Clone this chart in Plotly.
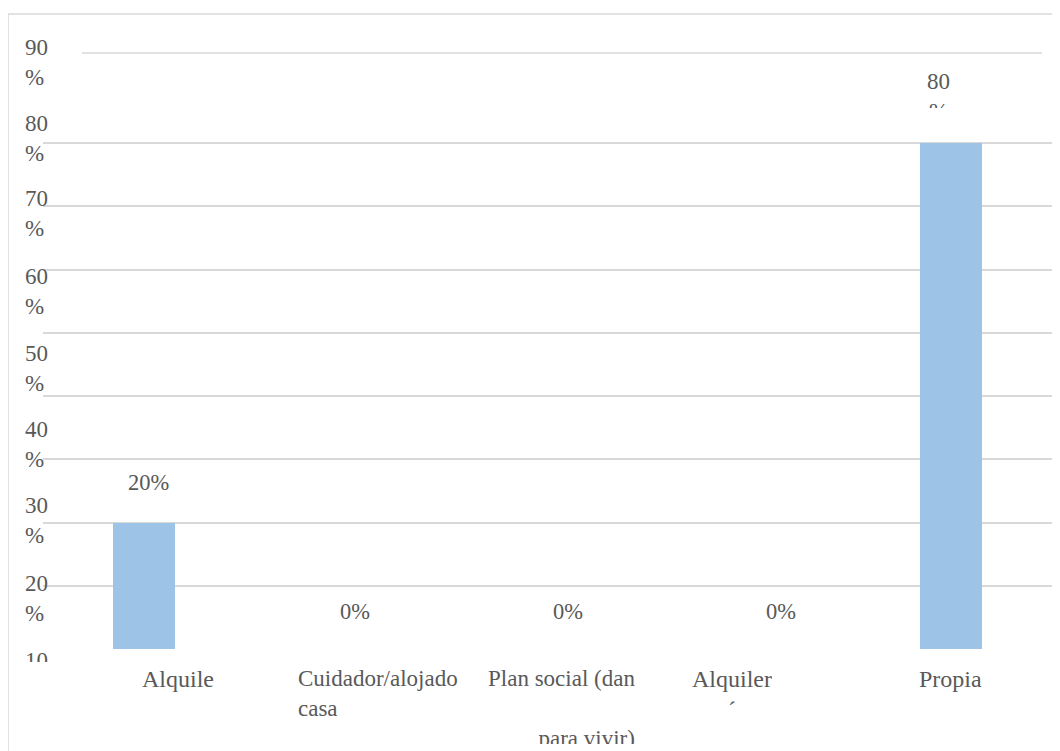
import plotly.graph_objects as go

# ---- data ----
categories = ["Alquile", "Cuidador/alojado casa", "Plan social (dan para vivir)", "Alquiler", "Propia"]
values = [20, 0, 0, 0, 80]
cat_labels = ["Alquile", "Cuidador/alojado<br>casa", "Plan social (dan<br><br>para vivir)", "Alquiler<br>´", "Propia"]
ytick_labels = ["90<br>%", "80<br>%", "70<br>%", "60<br>%", "50<br>%", "40<br>%", "30<br>%", "20<br>%", "10<br>%"]
grid_vals = [10, 20, 30, 40, 50, 60, 70, 80]

# ---- layout constants (page body has an 8px margin) ----
OFF = 8
W, H = 1060 - OFF, 751 - OFF
ML, MR, MT, MB = 43 - OFF, 8, 53 - OFF, 102
PW, PH = W - ML - MR, H - MT - MB
PB = H - MB  # plot bottom px (figure coords)
FONT = "Liberation Serif, Times New Roman, serif"
TXT = "#595959"
GRID = "#d9d9d9"


def px_y(p):
    # p given in page pixels
    return (PB - (p - OFF)) / PH


def px_x(p):
    return ((p - OFF) - ML) / PW


fig = go.Figure()
fig.add_trace(go.Bar(x=categories, y=values, marker=dict(color="#9dc3e6", line=dict(width=0)),
                     width=0.31, hoverinfo="skip"))

annotations = []
# y labels (misaligned as in reference)
ylab_mid_px = [62, 138, 214, 291, 368, 444, 520.5, 598]
for lab, p in zip(ytick_labels[:-1], ylab_mid_px):
    annotations.append(dict(text=lab, xref="paper", yref="paper", x=px_x(23), y=px_y(p),
                            xanchor="left", yanchor="middle", align="left", showarrow=False,
                            font=dict(family=FONT, size=23, color=TXT)))
# clipped bottom label
annotations.append(dict(text=ytick_labels[-1], xref="paper", yref="paper", x=px_x(23), y=px_y(646),
                        xanchor="left", yanchor="top", align="left", valign="top", height=14,
                        showarrow=False, font=dict(family=FONT, size=23, color=TXT)))

# data labels
dl_xshift = [5, 9, 20.5, 32, -13]
dl_yshift = [40, 38, 38, 38, 33]
for i, (c, v) in enumerate(zip(categories, values)):
    if i == len(values) - 1:
        annotations.append(dict(text=f"{v}<br>%", x=c, y=v, xref="x", yref="y",
                                xanchor="center", yanchor="bottom", valign="top", height=39,
                                xshift=dl_xshift[i], yshift=dl_yshift[i], showarrow=False,
                                font=dict(family=FONT, size=23, color=TXT)))
    else:
        annotations.append(dict(text=f"{v}%", x=c, y=v, xref="x", yref="y",
                                xanchor="center", yanchor="middle",
                                xshift=dl_xshift[i], yshift=dl_yshift[i], showarrow=False,
                                font=dict(family=FONT, size=22.5, color=TXT)))

# category labels
cl_anchor = ["center", "left", "right", "center", "center"]
cl_xshift = [34.5, -50, 89.5, -17.5, -1]
cl_height = [None, None, 78, 39, None]
cl_size = [24, 23, 23, 24, 24]
for i, (c, lab) in enumerate(zip(categories, cat_labels)):
    a = dict(text=lab, x=c, y=px_y(664), xref="x", yref="paper", xanchor=cl_anchor[i],
             yanchor="top", align=cl_anchor[i], valign="top", xshift=cl_xshift[i],
             showarrow=False, font=dict(family=FONT, size=cl_size[i], color=TXT))
    if cl_height[i]:
        a["height"] = cl_height[i]
    annotations.append(a)

shapes = [
    # top line
    dict(type="line", xref="paper", yref="paper", x0=px_x(82), x1=px_x(1042), y0=1, y1=1,
         line=dict(color=GRID, width=1.5)),
    # outer frame (partially visible)
    dict(type="rect", xref="paper", yref="paper", x0=px_x(8), x1=px_x(1080), y0=px_y(14), y1=px_y(780),
         line=dict(color=GRID, width=1.5), layer="below"),
]

fig.update_layout(
    width=W, height=H,
    margin=dict(l=ML, r=MR, t=MT, b=MB, pad=0),
    paper_bgcolor="white", plot_bgcolor="white",
    showlegend=False,
    bargap=0,
    xaxis=dict(range=[-0.5, 4.5], showticklabels=False, showgrid=False, zeroline=False,
               showline=False, ticks="", fixedrange=True),
    yaxis=dict(range=[0, 94.25], tickvals=[0] + grid_vals, showticklabels=False, showgrid=True,
               gridcolor=GRID, gridwidth=1.5, zeroline=False, showline=False, ticks="",
               fixedrange=True),
    annotations=annotations,
    shapes=shapes,
)

fig.write_html("out.html")
